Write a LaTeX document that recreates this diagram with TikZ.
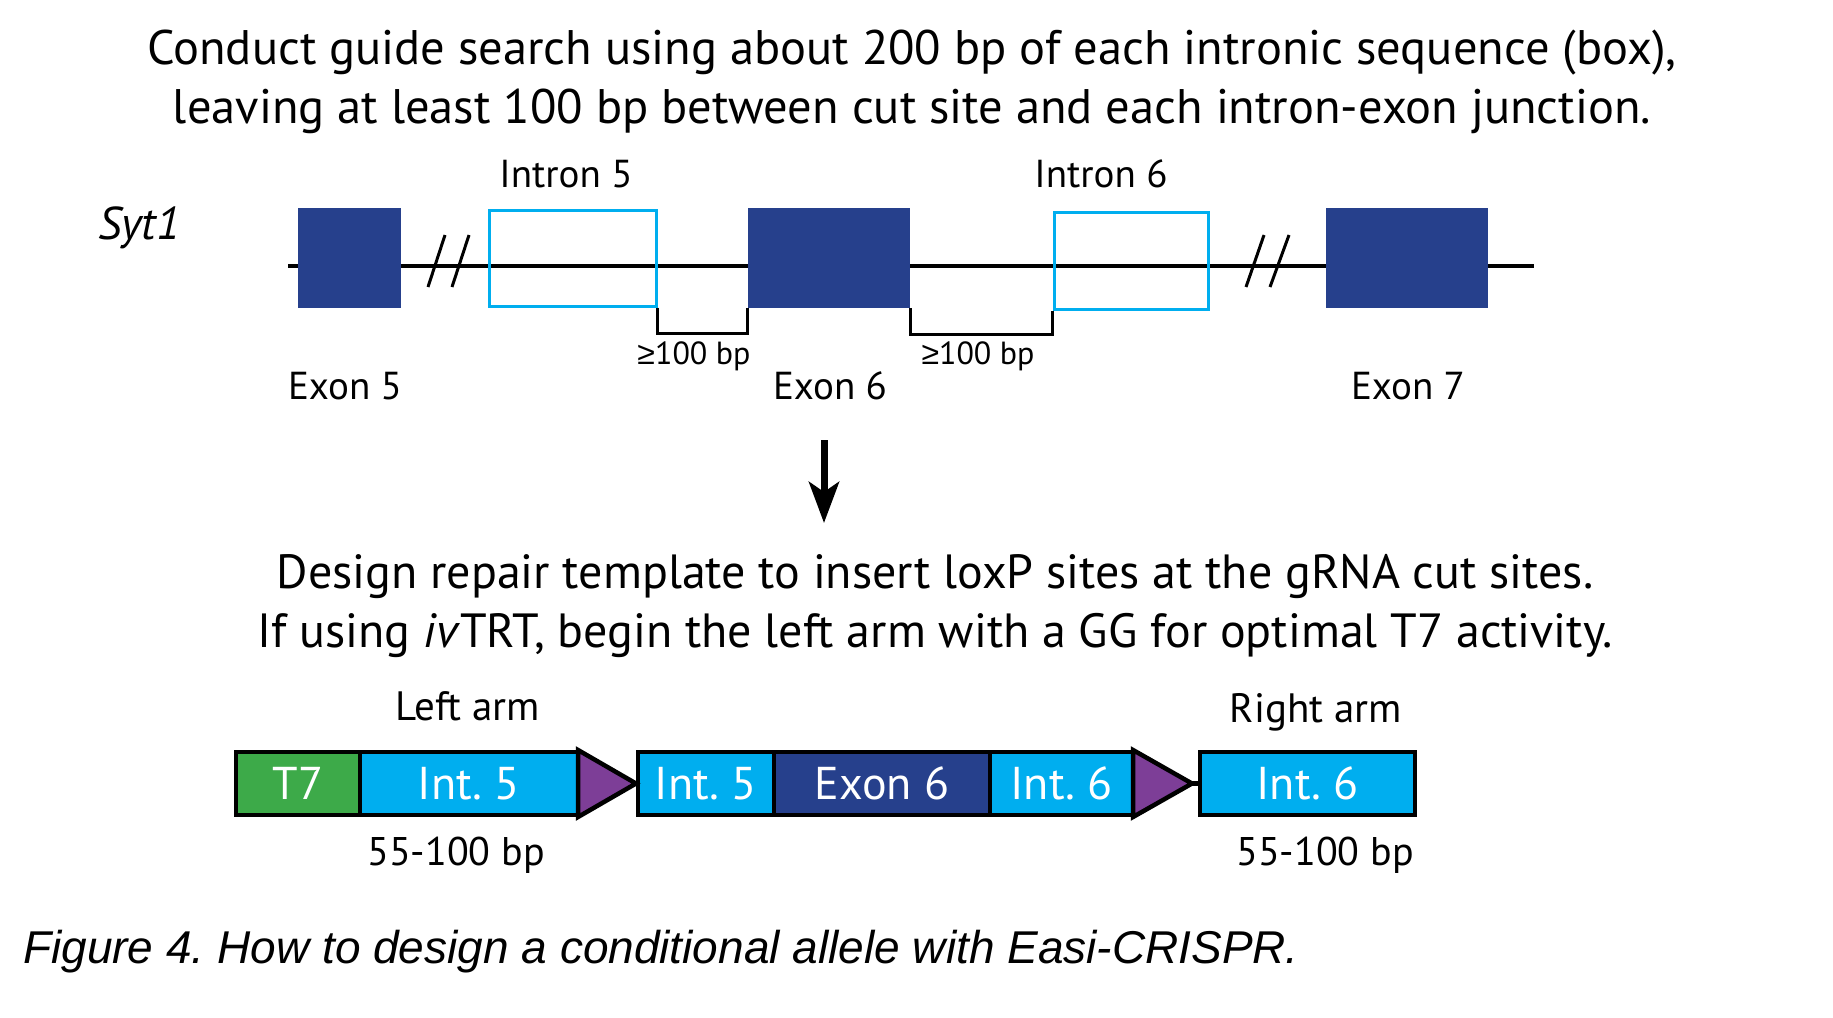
\documentclass[tikz,border=0pt]{standalone}
\usepackage{fontspec}
\setmainfont{PT Sans}
\newfontfamily\capfont{Liberation Sans}
\newfontfamily\symfont{Liberation Sans}
\usetikzlibrary{arrows.meta,calc}
\definecolor{exonblue}{RGB}{38,64,140}
\definecolor{intcyan}{RGB}{0,174,239}
\definecolor{tsgreen}{RGB}{61,170,73}
\definecolor{loxpurple}{RGB}{125,62,151}
\frenchspacing
\begin{document}
\begin{tikzpicture}[x=1pt,y=-1pt,
  titletxt/.style={font=\fontsize{48}{56}\selectfont, anchor=base, inner sep=0},
  lbl/.style={font=\fontsize{39}{44}\selectfont, anchor=base, inner sep=0},
  smalllbl/.style={font=\fontsize{32}{36}\selectfont, anchor=base, inner sep=0},
  exonbox/.style={fill=exonblue, inner sep=0, minimum height=100},
  intronbox/.style={draw=intcyan, line width=3, inner sep=0},
  rowbox/.style={draw=black, line width=4.5, inner sep=0, minimum height=63, text=white, font=\fontsize{46}{50}\selectfont},
  loxp/.style={fill=loxpurple, draw=black, line width=4.5, line join=miter},
  brk/.style={line width=3},
  slash/.style={line width=3}
]
\useasboundingbox (0,0) rectangle (1833,1017);
\fill[white] (0,0) rectangle (1833,1017);

% titles
\node[titletxt, font=\fontsize{48.5}{56}\selectfont] (t1) at (912,64) {Conduct guide search using about 200 bp of each intronic sequence (box),};
\node[titletxt, font=\fontsize{48.5}{56}\selectfont] (t2) at (912,123) {leaving at least 100 bp between cut site and each intron-exon junction.};

% gene
\node[font=\itshape\fontsize{46}{48}\selectfont, anchor=base, inner sep=0] (syt) at (139,239) {Syt1};
\coordinate (bbL) at (288,266);
\coordinate (bbR) at (1534,266);
\draw[line width=3.3] (bbL) -- (bbR);

\node[exonbox, minimum width=103] (ex5) at (349.5,258) {};
\node[exonbox, minimum width=162] (ex6) at (829,258) {};
\node[exonbox, minimum width=162] (ex7) at (1407,258) {};

\node[intronbox, minimum width=167, minimum height=96] (in5) at (572.5,258) {};
\node[intronbox, minimum width=154, minimum height=97] (in6) at (1131,260.5) {};

\draw[slash] (428,287) -- (445,235);
\draw[slash] (452,287) -- (469,235);
\draw[slash] (1246,287) -- (1264,235);
\draw[slash] (1270,287) -- (1289,235);

\draw[brk] (in5.south east) |- ($(ex6.south west)+(0,25)$) -- (ex6.south west);
\draw[brk] (ex6.south east) |- ($(in6.south west)+(0,24)$) -- (in6.south west);

\node[lbl] (lin5) at (566,187) {Intron 5};
\node[lbl] (lin6) at (1101,187) {Intron 6};
\node[lbl] (lex5) at (345,399) {Exon 5};
\node[lbl] (lex6) at (830,399) {Exon 6};
\node[lbl] (lex7) at (1408,399) {Exon 7};
\node[smalllbl] (g1) at (694,364) {{\symfont ≥}100 bp};
\node[smalllbl] (g2) at (978,364) {{\symfont ≥}100 bp};

% arrow
\coordinate (atop) at (824,440);
\coordinate (abot) at (824,523);
\draw[line width=7, -{Stealth[length=41pt,width=30pt,inset=10pt]}] (atop) -- (abot);

% design text
\node[titletxt] (d1) at (935,588) {Design repair template to insert loxP sites at the gRNA cut sites.};
\node[titletxt] (d2) at (935,647) {If using \textit{iv}TRT, begin the left arm with a GG for optimal T7 activity.};

% repair template
\node[lbl, font=\fontsize{41}{44}\selectfont] (larm) at (468,720) {Left arm};
\node[lbl, font=\fontsize{41}{44}\selectfont] (rarm) at (1316,722) {Right arm};

\node[rowbox, fill=tsgreen, minimum width=124] (t7) at (298,783.5) {T7};
\node[rowbox, fill=intcyan, minimum width=218] (i5l) at (469,783.5) {Int. 5};
\node[rowbox, fill=intcyan, minimum width=136] (i5r) at (706,783.5) {Int. 5};
\node[rowbox, fill=exonblue, minimum width=216] (e6) at (882,783.5) {Exon 6};
\node[rowbox, fill=intcyan, minimum width=143] (i6l) at (1061.5,783.5) {Int. 6};
\node[rowbox, fill=intcyan, minimum width=215] (i6r) at (1307.5,783.5) {Int. 6};

\draw[loxp] (578,750) -- (636,783.5) -- (578,817) -- cycle;
\coordinate (tip2) at (1192,783.5);
\draw[loxp] (1133,750) -- (tip2) -- (1133,817) -- cycle;
\draw[line width=4.5] (tip2) -- (i6r.west);

\node[lbl, font=\fontsize{40}{44}\selectfont] (bp1) at (456,865) {55-100 bp};
\node[lbl, font=\fontsize{40}{44}\selectfont] (bp2) at (1325,865) {55-100 bp};

% caption
\node[anchor=base west, inner sep=0, font=\capfont\itshape\fontsize{46}{50}\selectfont] (cap) at (23,963) {Figure 4. How to design a conditional allele with Easi-CRISPR.};
\end{tikzpicture}
\end{document}
